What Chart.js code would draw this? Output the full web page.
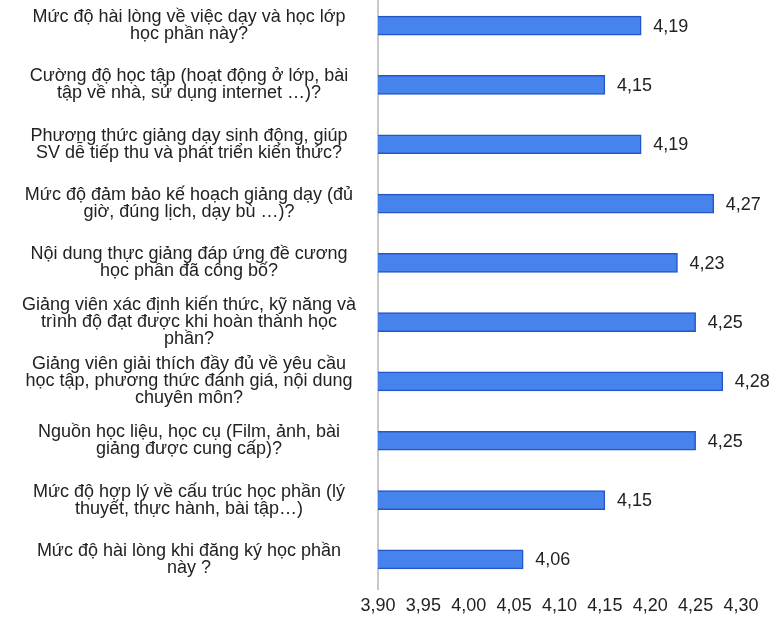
<!DOCTYPE html>
<html>
<head>
<meta charset="utf-8">
<script src="https://cdn.jsdelivr.net/npm/chart.js@4"></script>
<style>
  html, body { margin: 0; padding: 0; background: #ffffff; overflow: hidden; }
  #wrap { position: absolute; left: 0; top: -4px; width: 773px; height: 623px; }
</style>
</head>
<body>
<div id="wrap"><canvas id="c" width="773" height="623"></canvas></div>
<script>
const categories = [
  ["Mức độ hài lòng về việc dạy và học lớp", "học phần này?"],
  ["Cường độ học tập (hoạt động ở lớp, bài", "tập về nhà, sử dụng internet …)?"],
  ["Phương thức giảng dạy sinh động, giúp", "SV dễ tiếp thu và phát triển kiến thức?"],
  ["Mức độ đảm bảo kế hoạch giảng dạy (đủ", "giờ, đúng lịch, dạy bù …)?"],
  ["Nội dung thực giảng đáp ứng đề cương", "học phần đã công bố?"],
  ["Giảng viên xác định kiến thức, kỹ năng và", "trình độ đạt được khi hoàn thành học", "phần?"],
  ["Giảng viên giải thích đầy đủ về yêu cầu", "học tập, phương thức đánh giá, nội dung", "chuyên môn?"],
  ["Nguồn học liệu, học cụ (Film, ảnh, bài", "giảng được cung cấp)?"],
  ["Mức độ hợp lý về cấu trúc học phần (lý", "thuyết, thực hành, bài tập…)"],
  ["Mức độ hài lòng khi đăng ký học phần", "này ?"]
];
const scores = [4.19, 4.15, 4.19, 4.27, 4.23, 4.25, 4.28, 4.25, 4.15, 4.06];
const axisMin = 3.90;
const axisMax = 4.30;
const axisStep = 0.05;

const FONT = "'Liberation Sans', Arial, sans-serif";
const FS = 18;
const fmt = v => v.toFixed(2).replace('.', ',');

// measure widest category line to centre labels around x≈190
const mctx = document.createElement('canvas').getContext('2d');
mctx.font = FS + "px " + FONT;
let widest = 0;
categories.forEach(l => l.forEach(s => { widest = Math.max(widest, mctx.measureText(s).width); }));
const labelPad = Math.max(2, 378 - 189 - widest / 2);

const valueLabels = {
  id: 'valueLabels',
  afterDatasetsDraw(chart) {
    const ctx = chart.ctx;
    const meta = chart.getDatasetMeta(0);
    ctx.save();
    ctx.font = FS + "px " + FONT;
    ctx.fillStyle = '#222222';
    ctx.textAlign = 'left';
    ctx.textBaseline = 'middle';
    meta.data.forEach((bar, i) => {
      ctx.fillText(fmt(scores[i]), bar.x + 12, bar.y + 1);
    });
    ctx.restore();
  }
};

new Chart(document.getElementById('c'), {
  type: 'bar',
  data: {
    labels: categories,
    datasets: [{
      data: scores,
      backgroundColor: '#4683ec',
      borderColor: '#2456c8',
      borderWidth: 1.5,
      borderSkipped: false,
      barThickness: 19
    }]
  },
  options: {
    indexAxis: 'y',
    responsive: false,
    animation: false,
    layout: { padding: { top: 0, right: 32, bottom: 0, left: 0 } },
    plugins: { legend: { display: false }, tooltip: { enabled: false } },
    scales: {
      x: {
        min: axisMin,
        max: axisMax,
        afterFit(s) { s.height = 30; s.paddingLeft = 0; s.paddingRight = 0; },
        grid: { display: false, drawTicks: false },
        border: { display: false },
        ticks: {
          stepSize: axisStep,
          padding: 6,
          color: '#222222',
          maxRotation: 0,
          font: { family: FONT, size: FS },
          callback: v => fmt(v)
        }
      },
      y: {
        afterFit(s) { s.width = 378; s.paddingTop = 0; s.paddingBottom = 0; },
        grid: { display: false, drawTicks: false },
        border: { display: true, color: '#c8c8c8', width: 2 },
        ticks: {
          crossAlign: 'center',
          padding: labelPad,
          color: '#222222',
          autoSkip: false,
          font: { family: FONT, size: FS, lineHeight: '17px' }
        }
      }
    }
  },
  plugins: [valueLabels]
});
</script>
</body>
</html>
